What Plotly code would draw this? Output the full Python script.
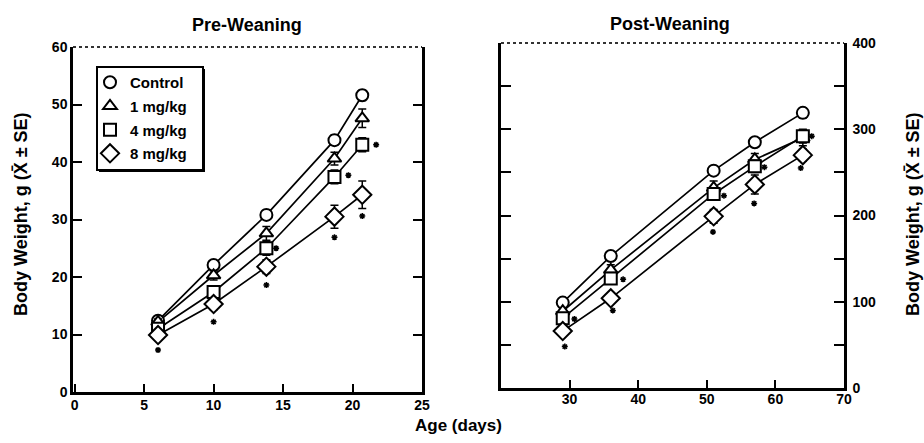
import plotly.graph_objects as go

# ---------------- data ----------------
series_names = ["Control", "1 mg/kg", "4 mg/kg", "8 mg/kg"]
series_symbols = ["circle", "triangle-up", "square", "diamond"]

days_pre = [6, 10, 13.8, 18.7, 20.7]
control_pre = [12.4, 22.1, 30.8, 43.8, 51.6]
mg1_pre = [12.2, 20.3, 27.6, 40.6, 47.6]
mg4_pre = [11.0, 17.4, 25.0, 37.4, 43.0]
mg8_pre = [9.9, 15.3, 21.8, 30.5, 34.3]
se_control_pre = [0.6, 0.7, 0.8, 0.9, 0.9]
se_mg1_pre = [0.5, 0.8, 1.2, 1.1, 1.6]
se_mg4_pre = [0.5, 0.8, 1.2, 1.2, 1.2]
se_mg8_pre = [0.6, 1.0, 1.2, 2.0, 2.4]

days_post = [29, 36, 51, 57, 64]
control_post = [99, 153, 252, 285, 319]
mg1_post = [89, 137, 232, 265, 290]
mg4_post = [81, 127, 225, 257, 292]
mg8_post = [66, 104, 199, 236, 270]
se_control_post = [3, 4, 5, 5, 6]
se_mg1_post = [4, 6, 8, 7, 9]
se_mg4_post = [4, 5, 6, 7, 8]
se_mg8_post = [4, 5, 8, 11, 7]

# significance markers (*)
star_pre_x = [6, 10, 14.5, 13.8, 19.7, 18.7, 21.7, 20.7]
star_pre_y = [7.3, 12.2, 25.0, 18.6, 37.7, 26.9, 43.0, 30.6]
star_post_x = [29.3, 30.7, 36.3, 37.8, 50.9, 52.5, 56.9, 58.4, 63.7, 65.3]
star_post_y = [48, 80, 90, 126, 181, 223, 214, 256, 255, 292]

pre_x_ticks = [0, 5, 10, 15, 20, 25]
pre_y_ticks = [0, 10, 20, 30, 40, 50, 60]
post_x_ticks = [30, 40, 50, 60, 70]
post_y_ticks = [0, 50, 100, 150, 200, 250, 300, 350, 400]
post_y_text = ["0", "", "100", "", "200", "", "300", "", "400"]

pre_values = [control_pre, mg1_pre, mg4_pre, mg8_pre]
pre_se = [se_control_pre, se_mg1_pre, se_mg4_pre, se_mg8_pre]
post_values = [control_post, mg1_post, mg4_post, mg8_post]
post_se = [se_control_post, se_mg1_post, se_mg4_post, se_mg8_post]

W, H = 924, 443
FONT = "Liberation Sans"

fig = go.Figure()

# lines first
for vals in pre_values:
    fig.add_trace(go.Scatter(x=days_pre, y=vals, mode="lines",
                             line=dict(color="black", width=1.7),
                             showlegend=False, hoverinfo="skip",
                             xaxis="x", yaxis="y"))
for vals in post_values:
    fig.add_trace(go.Scatter(x=days_post, y=vals, mode="lines",
                             line=dict(color="black", width=1.7),
                             showlegend=False, hoverinfo="skip",
                             xaxis="x2", yaxis="y2"))

# markers with error bars
for i, (name, sym) in enumerate(zip(series_names, series_symbols)):
    msize = 12 if sym != "diamond" else 14
    fig.add_trace(go.Scatter(
        x=days_pre, y=pre_values[i], mode="markers", name=name,
        legendgroup=name,
        marker=dict(symbol=sym, size=msize, color="white",
                    line=dict(color="black", width=2)),
        error_y=dict(type="data", array=pre_se[i], color="black",
                     thickness=1.5, width=4),
        xaxis="x", yaxis="y"))
    fig.add_trace(go.Scatter(
        x=days_post, y=post_values[i], mode="markers", name=name,
        legendgroup=name, showlegend=False,
        marker=dict(symbol=sym, size=msize, color="white",
                    line=dict(color="black", width=2)),
        error_y=dict(type="data", array=post_se[i], color="black",
                     thickness=1.5, width=4),
        xaxis="x2", yaxis="y2"))

# asterisks
for xs, ys, xa, ya in [(star_pre_x, star_pre_y, "x", "y"),
                       (star_post_x, star_post_y, "x2", "y2")]:
    fig.add_trace(go.Scatter(
        x=xs, y=ys, mode="markers", showlegend=False, hoverinfo="skip",
        marker=dict(symbol="asterisk-open", size=5, color="black",
                    line=dict(color="black", width=1.5)),
        xaxis=xa, yaxis=ya))

tickfont = dict(family=FONT, size=14, color="black", weight="bold")

def px_x(p):
    return p / W

def px_y(p):
    return 1 - p / H

fig.update_layout(
    width=W, height=H,
    margin=dict(l=0, r=0, t=0, b=0, pad=0, autoexpand=False),
    paper_bgcolor="white", plot_bgcolor="white",
    font=dict(family=FONT, color="black"),
    xaxis=dict(domain=[px_x(73), px_x(422)], range=[-0.12, 25.0],
               tickvals=pre_x_ticks, ticks="inside", ticklen=8,
               tickwidth=2, tickcolor="black", ticklabelstandoff=-2,
               showline=True, linewidth=2.5, linecolor="black",
               showgrid=False, zeroline=False, tickfont=tickfont,
               anchor="y", automargin=False),
    yaxis=dict(domain=[px_y(392), px_y(47)], range=[0, 60],
               tickvals=pre_y_ticks, ticks="inside", ticklen=9,
               tickwidth=2, tickcolor="black",
               showline=True, linewidth=2.5, linecolor="black",
               mirror="ticks", showgrid=False, zeroline=False,
               tickfont=tickfont, anchor="x", automargin=False),
    xaxis2=dict(domain=[px_x(501), px_x(844)], range=[20, 70],
                tickvals=post_x_ticks, ticks="inside", ticklen=8,
                tickwidth=2, tickcolor="black", ticklabelstandoff=-4,
                showline=True, linewidth=2.5, linecolor="black",
                showgrid=False, zeroline=False, tickfont=tickfont,
                anchor="y2", automargin=False),
    yaxis2=dict(domain=[px_y(388), px_y(43)], range=[0, 400],
                tickvals=post_y_ticks, ticktext=post_y_text,
                ticks="inside", ticklen=10, tickwidth=2, tickcolor="black",
                ticklabelstandoff=3,
                showline=True, linewidth=2.5, linecolor="black",
                mirror="ticks", side="right", showgrid=False,
                zeroline=False, tickfont=tickfont, anchor="x2",
                automargin=False),
    legend=dict(x=px_x(90), y=px_y(66), xanchor="left", yanchor="top",
                bgcolor="rgba(0,0,0,0)", borderwidth=0,
                font=dict(family=FONT, size=15, color="black", weight="bold"),
                tracegroupgap=1.2, itemwidth=30),
    showlegend=True,
)

# thin top borders
for xr, yr in [("x domain", "y domain"), ("x2 domain", "y2 domain")]:
    fig.add_shape(type="line", xref=xr, yref=yr, x0=0, x1=1, y0=1, y1=1,
                  line=dict(color="#333", width=1.8, dash="dot"))

# legend box with shadow
fig.add_shape(type="rect", xref="paper", yref="paper",
              x0=px_x(99), x1=px_x(205), y0=px_y(172), y1=px_y(69),
              line=dict(width=0), fillcolor="black", layer="above")
fig.add_shape(type="rect", xref="paper", yref="paper",
              x0=px_x(97), x1=px_x(203), y0=px_y(170), y1=px_y(67),
              line=dict(width=2, color="black"), fillcolor="white",
              layer="above")

title_font = dict(family=FONT, size=18, color="black", weight="bold")
common = dict(xref="paper", yref="paper", showarrow=False,
              xanchor="center", yanchor="middle")
fig.add_annotation(text="Pre-Weaning", x=px_x(247), y=px_y(25),
                   font=title_font, **common)
fig.add_annotation(text="Post-Weaning", x=px_x(670), y=px_y(24),
                   font=title_font, **common)
fig.add_annotation(text="Age (days)", x=px_x(458), y=px_y(425),
                   font=dict(family=FONT, size=17, color="black", weight="bold"),
                   **common)
ytitle = "Body Weight, g (X\u0304 \u00b1 SE)"
fig.add_annotation(text=ytitle, x=px_x(21), y=px_y(214), textangle=-90,
                   font=dict(family=FONT, size=18, color="black", weight="bold"),
                   **common)
fig.add_annotation(text=ytitle, x=px_x(913), y=px_y(214), textangle=-90,
                   font=dict(family=FONT, size=18, color="black", weight="bold"),
                   **common)

fig.write_html("out.html")
